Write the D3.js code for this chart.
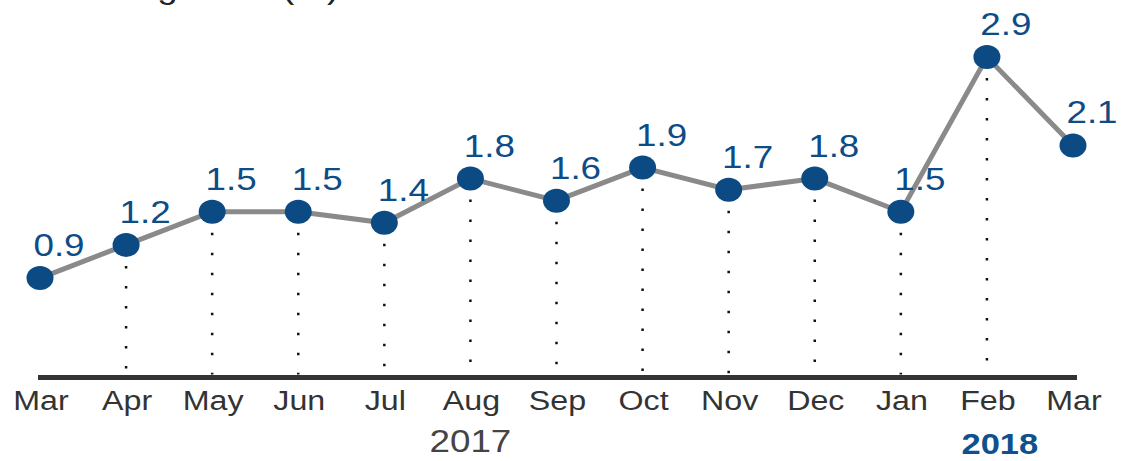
<!DOCTYPE html>
<html>
<head>
<meta charset="utf-8">
<script src="https://cdn.jsdelivr.net/npm/d3@7"></script>
<style>
  html, body { margin: 0; padding: 0; background: #fff; }
  text { font-family: "Liberation Sans", Arial, sans-serif; }
</style>
</head>
<body>
<div id="chart"></div>
<script>
// data
const months = ["Mar", "Apr", "May", "Jun", "Jul", "Aug", "Sep", "Oct", "Nov", "Dec", "Jan", "Feb", "Mar"];
const values = [0.9, 1.2, 1.5, 1.5, 1.4, 1.8, 1.6, 1.9, 1.7, 1.8, 1.5, 2.9, 2.1];
const years = [
  {label: "2017", at: 5.0, bold: false},
  {label: "2018", at: 11.15, bold: true}
];
const title = "Percentage rate (%)";

function main() {
  const width = 1121, height = 461;
  const sx = 1.15; // the source is a bit stretched sideways

  const svg = d3.select("#chart")
    .append("svg")
    .attr("width", width)
    .attr("height", height);

  const x = d3.scaleLinear()
    .domain([0, months.length - 1])
    .range([40, 1073]);

  const y = d3.scaleLinear()
    .domain([0, 3])
    .range([377.5, 46]);

  const data = values.map((v, i) => ({i: i, v: v, m: months[i]}));

  // title, cut off at the top edge
  svg.append("text")
    .attr("transform", `translate(10,-2) scale(${sx},1)`)
    .attr("font-size", "32px")
    .attr("fill", "#222")
    .text(title);

  // dotted drop lines (not for first and last point)
  svg.append("g")
    .selectAll("line")
    .data(data.filter(d => d.i > 0 && d.i < months.length - 1))
    .enter()
    .append("line")
    .attr("x1", d => x(d.i))
    .attr("x2", d => x(d.i))
    .attr("y1", d => y(d.v) + 21)
    .attr("y2", y(0) - 3)
    .attr("stroke", "#111")
    .attr("stroke-width", 2.5)
    .attr("stroke-dasharray", "2.5,17.5");

  // baseline
  svg.append("line")
    .attr("x1", 38)
    .attr("x2", 1077)
    .attr("y1", y(0))
    .attr("y2", y(0))
    .attr("stroke", "#333")
    .attr("stroke-width", 5);

  // line
  const line = d3.line()
    .x(d => x(d.i))
    .y(d => y(d.v));

  svg.append("path")
    .datum(data)
    .attr("d", line)
    .attr("fill", "none")
    .attr("stroke", "#8a8a8a")
    .attr("stroke-width", 5);

  // points
  svg.append("g")
    .selectAll("ellipse")
    .data(data)
    .enter()
    .append("ellipse")
    .attr("cx", d => x(d.i))
    .attr("cy", d => y(d.v))
    .attr("rx", 13.5)
    .attr("ry", 12)
    .attr("fill", "#0b4a82");

  // value labels
  svg.append("g")
    .selectAll("text")
    .data(data)
    .enter()
    .append("text")
    .attr("transform", d => `translate(${x(d.i) + 19},${y(d.v) - 22}) scale(${sx},1)`)
    .attr("text-anchor", "middle")
    .attr("font-size", "32px")
    .attr("fill", "#0d4c87")
    .text(d => d.v.toFixed(1));

  // month labels
  svg.append("g")
    .selectAll("text")
    .data(data)
    .enter()
    .append("text")
    .attr("transform", d => `translate(${x(d.i) + 1},410) scale(${sx},1)`)
    .attr("text-anchor", "middle")
    .attr("font-size", "28px")
    .attr("fill", "#333")
    .text(d => d.m);

  // year labels
  svg.append("g")
    .selectAll("text")
    .data(years)
    .enter()
    .append("text")
    .attr("transform", d => `translate(${x(d.at)},${d.bold ? 454 : 452}) scale(${sx},1)`)
    .attr("text-anchor", "middle")
    .attr("font-size", d => d.bold ? "30px" : "32px")
    .attr("font-weight", d => d.bold ? "bold" : "normal")
    .attr("fill", d => d.bold ? "#10508c" : "#444")
    .text(d => d.label);
}

main()
</script>
</body>
</html>
